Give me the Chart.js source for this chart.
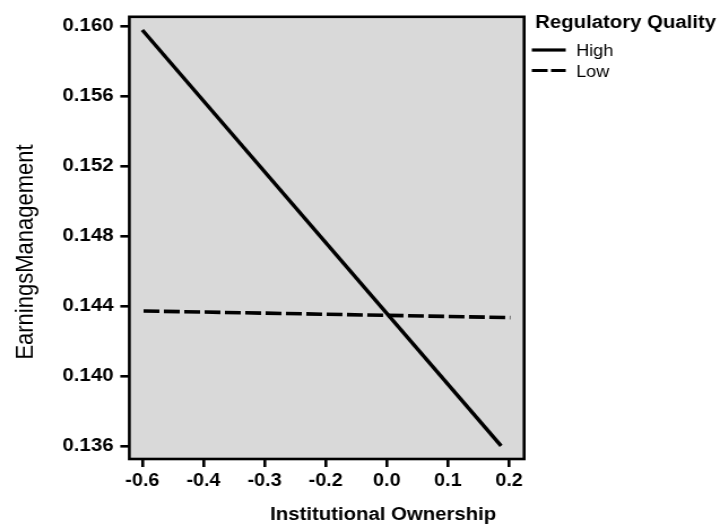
<!DOCTYPE html>
<html>
<head>
<meta charset="utf-8">
<script src="https://cdn.jsdelivr.net/npm/chart.js@4.4.1/dist/chart.umd.min.js"></script>
<style>
  html, body { margin: 0; padding: 0; background: #ffffff; overflow: hidden; }
  #wrap { width: 637px; height: 524px; transform: scaleX(1.1303); transform-origin: 0 0; }
  canvas { display: block; }
</style>
</head>
<body>
<div id="wrap"><canvas id="c" width="637" height="524"></canvas></div>
<script>
// ---- data ----
const xTickLabels = ['-0.6', '-0.4', '-0.3', '-0.2', '0.0', '0.1', '0.2'];
const xTickPositions = [0, 1, 2, 3, 4, 5, 6];
const yTicks = [0.136, 0.140, 0.144, 0.148, 0.152, 0.156, 0.160];
const seriesNames = ['High', 'Low'];
const highX = [0, 5.87];
const highY = [0.1598, 0.1360];
const lowX = [0.02, 6.02];
const lowY = [0.14372, 0.14334];
const legendTitle = 'Regulatory Quality';
const xTitle = 'Institutional Ownership';
const yTitle = 'EarningsManagement';

const FONT = '"Liberation Sans", Arial, Helvetica, sans-serif';
const toPts = (xs, ys) => xs.map((x, i) => ({ x: x, y: ys[i] }));

const decor = {
  id: 'decor',
  beforeDraw(chart) {
    const { ctx, chartArea: a } = chart;
    ctx.save();
    ctx.fillStyle = '#d9d9d9';
    ctx.fillRect(a.left, a.top, a.right - a.left, a.bottom - a.top);
    ctx.restore();
  },
  afterDraw(chart) {
    const { ctx, chartArea: a } = chart;
    ctx.save();
    ctx.strokeStyle = '#000';
    ctx.lineWidth = 2.6;
    ctx.strokeRect(a.left, a.top, a.right - a.left, a.bottom - a.top);
    ctx.fillStyle = '#000';
    ctx.font = 'bold 18px ' + FONT;
    ctx.textAlign = 'center';
    ctx.textBaseline = 'alphabetic';
    ctx.fillText(xTitle, 339, 520);
    ctx.save();
    ctx.translate(29.2, 252);
    ctx.rotate(-Math.PI / 2);
    ctx.font = '22px ' + FONT;
    ctx.textAlign = 'center';
    ctx.fillText(yTitle, 0, 0);
    ctx.restore();
    ctx.textAlign = 'left';
    ctx.font = 'bold 18px ' + FONT;
    ctx.fillText(legendTitle, 473.5, 28.3);
    ctx.font = '16px ' + FONT;
    const rows = [{ y: 50, t: 55.5, dash: [] }, { y: 70.5, t: 77, dash: [14, 3] }];
    rows.forEach((r, i) => {
      ctx.beginPath();
      ctx.setLineDash(r.dash);
      ctx.lineWidth = 3.2;
      ctx.moveTo(470.5, r.y);
      ctx.lineTo(500.5, r.y);
      ctx.stroke();
      ctx.setLineDash([]);
      ctx.fillText(seriesNames[i], 509.7, r.t);
    });
    ctx.restore();
  }
};

new Chart(document.getElementById('c'), {
  type: 'scatter',
  data: {
    datasets: [
      { label: seriesNames[0], data: toPts(highX, highY), showLine: true,
        borderColor: '#000', borderWidth: 3.4, pointRadius: 0, fill: false },
      { label: seriesNames[1], data: toPts(lowX, lowY), showLine: true,
        borderColor: '#000', borderWidth: 3.6, borderDash: [14, 4], pointRadius: 0, fill: false }
    ]
  },
  options: {
    responsive: false,
    animation: false,
    events: [],
    layout: { padding: { left: 0, top: 11.7, right: 173.3, bottom: 0 } },
    plugins: { legend: { display: false }, tooltip: { enabled: false } },
    scales: {
      x: {
        type: 'linear',
        min: -0.213,
        max: 6.247,
        afterBuildTicks: (s) => { s.ticks = xTickPositions.map(v => ({ value: v })); },
        afterFit: (s) => { s.height = 65; },
        grid: { display: true, drawOnChartArea: false, drawTicks: true, tickLength: 8, color: '#000', lineWidth: 2.6 },
        border: { display: false },
        ticks: {
          color: '#000', padding: 4, maxRotation: 0, autoSkip: false,
          font: { family: FONT, size: 17.5, weight: 'bold' },
          callback: (v, i) => xTickLabels[i]
        }
      },
      y: {
        type: 'linear',
        min: 0.13525,
        max: 0.16055,
        afterBuildTicks: (s) => { s.ticks = yTicks.map(v => ({ value: v })); },
        afterFit: (s) => { s.width = 114.4; },
        grid: { display: true, drawOnChartArea: false, drawTicks: true, tickLength: 8, color: '#000', lineWidth: 2.6 },
        border: { display: false },
        ticks: {
          color: '#000', padding: 6, autoSkip: false,
          font: { family: FONT, size: 18, weight: 'bold' },
          callback: (v) => Number(v).toFixed(3)
        }
      }
    }
  },
  plugins: [decor]
});
</script>
</body>
</html>
